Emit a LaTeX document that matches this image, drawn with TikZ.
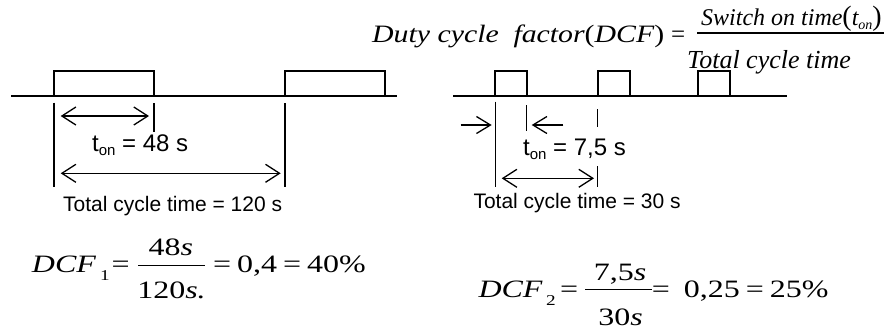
\documentclass[tikz,border=0pt]{standalone}
\usepackage{fontspec}
\usepackage{graphicx}
\usetikzlibrary{arrows.meta}
\setmainfont{Liberation Serif}
\newfontfamily\arialf{Liberation Sans}
\newfontfamily\timesf{Liberation Serif}
\newfontfamily\timeswide[FakeStretch=1.28]{Liberation Serif}
\newcommand\mysansub[1]{\raisebox{-4pt}{\fontsize{15}{15}\selectfont #1}}
\newcommand\myitsub[1]{\raisebox{-4pt}{\fontsize{14}{14}\selectfont\itshape #1}}
\newcommand\fitwidth[2]{\resizebox{#1}{\height}{#2}}
\tikzset{
  x=1pt, y=-1pt,
  wave/.style={line width=1.5pt, line join=miter},
  tickline/.style={line width=1.4pt},
  dimarrow/.style={line width=1.3pt, {Straight Barb[length=14pt,width=18pt]}-{Straight Barb[length=14pt,width=18pt]}},
  onearrow/.style={line width=1.3pt, -{Straight Barb[length=14pt,width=17pt]}},
  sanslbl/.style={inner sep=0pt, anchor=base west, font=\arialf\fontsize{21}{25}\selectfont},
  tonlbl/.style={inner sep=0pt, anchor=base west, font=\arialf\fontsize{24}{28}\selectfont},
  eqtxt/.style={inner sep=0pt, anchor=base west, font=\timeswide\fontsize{25}{30}\selectfont},
  eqsub/.style={inner sep=0pt, anchor=base west, font=\timeswide\fontsize{15}{18}\selectfont},
  fracpart/.style={inner sep=0pt, anchor=base, font=\timeswide\fontsize{25}{30}\selectfont},
  fracbar/.style={line width=1.1pt},
  toptxt/.style={inner sep=0pt, anchor=base west, font=\timesf\fontsize{25}{30}\selectfont},
}
\begin{document}
\begin{tikzpicture}
\useasboundingbox (0,0) rectangle (887,333);

% ---------- left timing diagram ----------
\draw[wave] (11,96) -- (397,96);
\draw[wave] (54,96) -- (54,71) -- (154,71) -- (154,96);
\draw[wave] (285,96) -- (285,71) -- (385,71) -- (385,96);
\coordinate (lA1) at (54,102.7);  \coordinate (lA2) at (54,186.7);
\coordinate (lB1) at (154,103);   \coordinate (lB2) at (154,131.7);
\coordinate (lC1) at (285,103);   \coordinate (lC2) at (285,187);
\draw[tickline] (lA1) -- (lA2);
\draw[tickline] (lB1) -- (lB2);
\draw[tickline] (lC1) -- (lC2);
\coordinate (la1) at (60.7,116);   \coordinate (la2) at (149,116);
\coordinate (lb1) at (60.7,173.3); \coordinate (lb2) at (280.7,173.3);
\draw[dimarrow] (la1) -- (la2);
\draw[dimarrow] (lb1) -- (lb2);
\node[tonlbl] (ton1) at (92,151.7) {t\mysansub{on} = 48 s};
\node[sanslbl] (tot1) at (63,211.7) {Total cycle time = 120 s};

% ---------- right timing diagram ----------
\draw[wave] (453,96) -- (787,96);
\draw[wave] (495,96) -- (495,71) -- (527,71) -- (527,96);
\draw[wave] (598,96) -- (598,71) -- (630,71) -- (630,96);
\draw[wave] (698,96) -- (698,71) -- (730,71) -- (730,96);
\coordinate (rA1) at (495.7,101.7); \coordinate (rA2) at (495.7,186.7);
\coordinate (rB1) at (526.5,105);   \coordinate (rB2) at (526.5,130.7);
\coordinate (rC1) at (597.7,109.3); \coordinate (rC2) at (597.7,126.7);
\coordinate (rD1) at (597.7,166);   \coordinate (rD2) at (597.7,187.3);
\draw[tickline] (rA1) -- (rA2);
\draw[tickline] (rB1) -- (rB2);
\draw[tickline] (rC1) -- (rC2);
\draw[tickline] (rD1) -- (rD2);
\coordinate (ra1) at (460.7,125); \coordinate (ra2) at (491.7,125);
\coordinate (rb1) at (563.3,125); \coordinate (rb2) at (531.7,125);
\coordinate (rc1) at (501.7,178.3); \coordinate (rc2) at (594,178.3);
\draw[onearrow] (ra1) -- (ra2);
\draw[onearrow] (rb1) -- (rb2);
\draw[dimarrow] (rc1) -- (rc2);
\node[tonlbl] (ton2) at (523,155) {t\mysansub{on} = 7,5 s};
\node[sanslbl] (tot2) at (473.3,208.3) {Total cycle time = 30 s};

% ---------- top definition ----------
\node[toptxt] (duty) at (372,42.5) {\fitwidth{292pt}{\itshape Duty cycle\hspace{6pt} factor\upshape(\itshape DCF\upshape)}};
\node[toptxt] (eqtop) at (671,42.5) {=};
\coordinate (tbarL) at (697,33); \coordinate (tbarR) at (884,33);
\draw[fracbar] (tbarL) -- (tbarR);
\node[toptxt, anchor=base east, font=\timesf\fontsize{24}{28}\selectfont] (numtop) at (882,25) {\itshape Switch on time\upshape{\fontsize{28}{28}\selectfont(}\itshape t\myitsub{on}\upshape{\fontsize{28}{28}\selectfont)}};
\node[toptxt, font=\timesf\fontsize{26}{30}\selectfont] (dentop) at (687,68.3) {\itshape Total cycle time};

% ---------- formula 1 ----------
\node[eqtxt] (dcf1) at (31.7,272.7) {\itshape DCF};
\node[eqsub] (sub1) at (100,280) {1};
\node[eqtxt] (eq1) at (111.5,272.7) {=};
\coordinate (f1L) at (138.3,265.7); \coordinate (f1R) at (205,265.7);
\draw[fracbar] (f1L) -- (f1R);
\node[fracpart] (num1) at (170.8,255.7) {48\textit{s}};
\node[fracpart] (den1) at (171.5,298.3) {120\textit{s.}};
\node[eqtxt] (res1) at (212.8,272.7) {=\hspace{6pt}0,4\hspace{6pt}=\hspace{6pt}40\%};

% ---------- formula 2 ----------
\node[eqtxt] (dcf2) at (478.3,297.7) {\itshape DCF};
\node[eqsub] (sub2) at (546,305) {2};
\node[eqtxt] (eq2) at (560,297.7) {=};
\coordinate (f2L) at (585,289.3); \coordinate (f2R) at (651.7,289.3);
\draw[fracbar] (f2L) -- (f2R);
\node[fracpart] (num2) at (620,280) {7,5\textit{s}};
\node[fracpart] (den2) at (620.5,325) {30\textit{s}};
\node[eqtxt] (res2) at (651.7,297.7) {=\hspace{14pt}0,25\hspace{6pt}=\hspace{6pt}25\%};
\end{tikzpicture}
\end{document}
